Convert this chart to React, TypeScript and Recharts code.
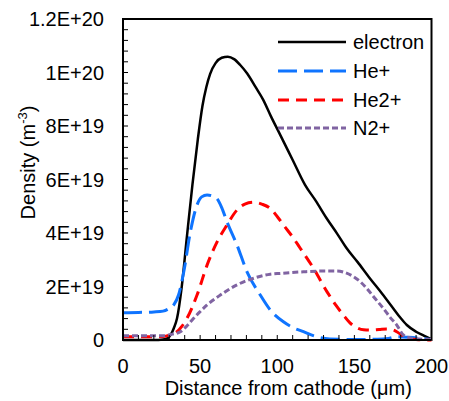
import React from 'react';
import { LineChart, Line, XAxis, YAxis, ReferenceArea } from 'recharts';

// densities in units of 1E+19 m^-3, distance from cathode in µm
const electron = [
  [0, 0], [20, 0], [26, 0.02], [29, 0.07], [31, 0.2], [33, 0.45], [35, 0.8], [38, 1.95],
  [41.5, 3.9], [45, 5.8], [48.5, 7.5], [51.5, 8.75], [54, 9.45], [56.5, 9.95], [60, 10.35],
  [64, 10.55], [68, 10.59], [72, 10.5], [76, 10.28], [80.4, 9.97], [86, 9.45], [91, 8.97],
  [96, 8.35], [102, 7.66], [110, 6.73], [118, 5.8], [125, 5.2], [132, 4.55], [139, 3.96],
  [145, 3.43], [152, 2.92], [160, 2.31], [168, 1.73], [175, 1.2], [180, 0.82], [184, 0.56],
  [190, 0.31], [195, 0.16], [200, 0.02],
];

const hePlus = [
  [0, 1.02], [10, 1.03], [20, 1.05], [26, 1.08], [30, 1.18], [33, 1.32], [36, 1.68],
  [39.4, 2.55], [43.7, 4.05], [48, 5.05], [51, 5.35], [54.5, 5.42], [58, 5.38], [61, 5.28],
  [64, 4.95], [67.4, 4.42], [73.9, 3.55], [80.4, 2.55], [89, 1.68], [95.5, 1.12], [104, 0.68],
  [110, 0.47], [117, 0.31], [125, 0.13], [134, 0.04], [150, 0.02], [165, 0.03], [172, 0.06],
  [177.5, 0.12], [185, 0.1], [192, 0.07], [200, 0.02],
];

const he2Plus = [
  [0, 0.12], [20, 0.12], [26, 0.13], [30, 0.18], [35, 0.31], [38, 0.5], [41.5, 0.81],
  [48, 1.68], [54.5, 2.8], [61, 3.67], [67.4, 4.3], [73.9, 4.86], [79, 5.08], [84.7, 5.15],
  [90, 5.08], [95.5, 4.92], [100.8, 4.55], [104, 4.3], [110, 3.85], [114.9, 3.43],
  [123.5, 2.68], [132.2, 1.81], [138, 1.3], [142.9, 0.93], [147, 0.65], [151.6, 0.46],
  [156, 0.38], [160.2, 0.37], [166, 0.39], [171, 0.41], [175, 0.38], [177.5, 0.31],
  [181, 0.17], [184, 0.06], [190, 0.02], [200, 0],
];

const n2Plus = [
  [0, 0.16], [20, 0.16], [26.4, 0.16], [32, 0.22], [37.2, 0.31], [41, 0.5], [45.8, 0.81],
  [50, 1.06], [54.5, 1.31], [63.1, 1.68], [73.9, 2.06], [84.7, 2.31], [95.5, 2.46],
  [102, 2.49], [117, 2.55], [130, 2.58], [138.6, 2.58], [144, 2.52], [149.4, 2.37],
  [154, 2.17], [158, 1.93], [163, 1.58], [168.8, 1.18], [173, 0.86], [177.5, 0.56],
  [181.7, 0.19], [186, 0.08], [190, 0.05], [200, 0.02],
];

const xMajorTicks = [0, 50, 100, 150, 200];
const xTickLabels = ['0', '50', '100', '150', '200'];
const yMajorTicks = [0, 2, 4, 6, 8, 10, 12];
const yTickLabels = ['0', '2E+19', '4E+19', '6E+19', '8E+19', '1E+20', '1.2E+20'];

const xMinorTicks = Array.from({ length: 21 }, (_, i) => i * 10);
const yMinorTicks = Array.from({ length: 31 }, (_, i) => Math.round(i * 4) / 10);

const FONT = 'Arial, "Liberation Sans", sans-serif';

const toPoints = (pairs: number[][]) => pairs.map(([x, y]) => ({ x, y }));

const series = [
  { name: 'electron', data: electron, color: '#000000', width: 2.5, dash: undefined },
  { name: 'He+', data: hePlus, color: '#0F74FF', width: 3, dash: '19 7' },
  { name: 'He2+', data: he2Plus, color: '#FF0000', width: 3, dash: '11 7' },
  { name: 'N2+', data: n2Plus, color: '#8064A2', width: 3, dash: '6 3' },
];

const findMajor = (list: number[], v: number) =>
  list.findIndex((m) => Math.abs(m - v) < 1e-6);

const XTick = ({ x, y, payload }: any) => {
  const i = findMajor(xMajorTicks, payload.value);
  return (
    <g>
      <line x1={x} x2={x} y1={y} y2={y - 5} stroke="#000" strokeWidth={1} />
      {i >= 0 && (
        <text x={x} y={y + 33} textAnchor="middle" fontSize={20} fontFamily={FONT} fill="#000">
          {xTickLabels[i]}
        </text>
      )}
    </g>
  );
};

const YTick = ({ x, y, payload }: any) => {
  const i = findMajor(yMajorTicks, payload.value);
  return (
    <g>
      <line x1={x} x2={x + 5} y1={y} y2={y} stroke="#000" strokeWidth={1} />
      {i >= 0 && (
        <text x={x - 19} y={y + 7} textAnchor="end" fontSize={20} fontFamily={FONT} fill="#000">
          {yTickLabels[i]}
        </text>
      )}
    </g>
  );
};

const XLabel = ({ viewBox }: any) => (
  <text
    x={viewBox.x + viewBox.width / 2 + 11}
    y={viewBox.y + 55}
    textAnchor="middle"
    fontSize={20}
    fontFamily={FONT}
    fill="#000"
  >
    Distance from cathode (μm)
  </text>
);

const YLabel = ({ viewBox }: any) => {
  const cx = viewBox.x + 12;
  const cy = viewBox.y + viewBox.height / 2 - 17;
  return (
    <text
      x={cx}
      y={cy}
      transform={`rotate(-90, ${cx}, ${cy})`}
      textAnchor="middle"
      fontSize={20}
      fontFamily={FONT}
      fill="#000"
    >
      <tspan>Density (m</tspan>
      <tspan fontSize={13} dy={-8}>-3</tspan>
      <tspan dy={8}>)</tspan>
    </text>
  );
};

const ChartLegend = () => (
  <div style={{ position: 'absolute', left: 278, top: 28, fontFamily: FONT }}>
    {series.map((s) => (
      <div key={s.name} style={{ display: 'flex', alignItems: 'center', height: 28.7 }}>
        <svg width={68} height={6}>
          <line x1={0} x2={68} y1={3} y2={3} stroke={s.color} strokeWidth={s.width} strokeDasharray={s.dash} />
        </svg>
        <span style={{ marginLeft: 7, fontSize: 20, lineHeight: 1, color: '#000' }}>{s.name}</span>
      </div>
    ))}
  </div>
);

export default function App() {
  return (
    <div style={{ position: 'absolute', left: 0, top: 0, width: 449, height: 401, background: '#fff' }}>
      <LineChart width={449} height={401} margin={{ top: 19, right: 17.5, bottom: 21, left: 23 }}>
        <XAxis
          type="number"
          dataKey="x"
          domain={[0, 200]}
          ticks={xMinorTicks}
          interval={0}
          tickSize={0}
          tickMargin={0}
          height={40}
          axisLine={{ stroke: '#000', strokeWidth: 2 }}
          tickLine={false}
          tick={<XTick />}
          label={{ content: <XLabel /> }}
        />
        <YAxis
          type="number"
          dataKey="y"
          domain={[0, 12]}
          ticks={yMinorTicks}
          interval={0}
          tickSize={0}
          tickMargin={0}
          width={100}
          axisLine={{ stroke: '#000', strokeWidth: 2 }}
          tickLine={false}
          tick={<YTick />}
          label={{ content: <YLabel /> }}
        />
        <ReferenceArea x1={0} x2={200} y1={0} y2={12} fill="none" stroke="#000" strokeWidth={2} />
        {series.map((s) => (
          <Line
            key={s.name}
            data={toPoints(s.data)}
            dataKey="y"
            name={s.name}
            type="monotone"
            stroke={s.color}
            strokeWidth={s.width}
            strokeDasharray={s.dash}
            dot={false}
            activeDot={false}
            isAnimationActive={false}
          />
        ))}
      </LineChart>
      <ChartLegend />
    </div>
  );
}
